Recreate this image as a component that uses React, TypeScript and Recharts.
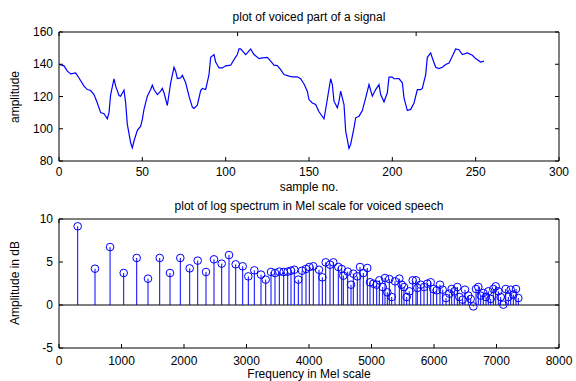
import React from 'react';
import { LineChart, Line, XAxis, YAxis, ComposedChart, Scatter, ErrorBar, ReferenceLine } from 'recharts';

// ---- top subplot: voiced part of a signal ----
const sampleNo = [
  0, 3, 5, 7, 10, 12, 15, 17, 19, 21, 23, 25, 27, 29, 30, 31, 33, 34, 36, 37, 39, 40, 41, 43, 44, 45, 47, 49,
  50, 51, 53, 55, 56, 57, 59, 61, 62, 63, 65, 67, 69, 70, 71, 73, 74, 76, 78, 80, 81, 83, 85, 86, 88, 90, 91,
  93, 94, 96, 98, 100, 103, 105, 107, 108, 109, 112, 113, 115, 117, 120, 122, 125, 127, 129, 131, 133, 135,
  138, 140, 143, 145, 147, 149, 150, 152, 154, 156, 159, 160, 163, 164, 165, 167, 168, 169, 171, 172, 174,
  175, 177, 178, 180, 182, 184, 186, 188, 190, 192, 193, 195, 197, 198, 200, 201, 204, 206, 207, 209, 211,
  213, 215, 217, 218, 220, 221, 223, 224, 226, 228, 230, 232, 234, 236, 238, 240, 242, 245, 248, 250, 253, 255,
];
const amplitude = [
  140, 139, 135.7, 134, 134.6, 131.5, 126.4, 124.3, 123.7, 121.2, 116, 110, 109.3, 106.2, 110, 121.2, 131,
  126.4, 120.6, 120.2, 124, 116, 102.7, 91.3, 88.2, 92.4, 99, 101.6, 105.8, 112, 120.2, 124.3, 127, 124.3,
  121.2, 123.3, 125, 122.3, 114.4, 128.5, 138.1, 135.7, 131.1, 131.5, 133.2, 128.5, 120.2, 113.4, 112.6,
  114.6, 123.7, 125, 124.3, 133.6, 144.3, 146, 141.4, 137.7, 137.7, 139, 139.4, 142.9, 146, 149.5, 149.5,
  146, 147, 149.5, 146, 143.5, 143.9, 144.3, 141.9, 139.4, 139.2, 136.7, 133.6, 132.6, 132.2, 132.2, 131,
  127.8, 123.3, 118.1, 116, 115, 110.5, 106.2, 112, 131, 127.4, 117.1, 113, 117.1, 123.3, 115, 98.6, 87.8,
  90.3, 100.6, 106.8, 107.8, 111.3, 119.2, 127.4, 120.2, 124.3, 127.4, 121.2, 116.7, 122.3, 132, 132, 131,
  131.1, 128.5, 119.2, 111.3, 112, 116, 124.3, 124.3, 125, 133.6, 144.3, 147, 143.9, 138.1, 137.3, 138.1,
  139.8, 140.8, 145, 149.5, 149, 146, 147, 145.6, 143.5, 141.4, 141.9,
];
const topXTicks = [0, 50, 100, 150, 200, 250, 300];
const topYTicks = [80, 100, 120, 140, 160];

// ---- bottom subplot: log spectrum in Mel scale ----
const melFreq = [
  299, 576, 817, 1035, 1243, 1424, 1611, 1776, 1941, 2091, 2219, 2352, 2480, 2603, 2720, 2827, 2939, 3029,
  3125, 3232, 3307, 3392, 3456, 3525, 3595, 3659, 3712, 3765, 3829, 3888, 3952, 4005, 4069, 4160, 4213, 4267,
  4336, 4389, 4469, 4523, 4549, 4619, 4672, 4709, 4773, 4816, 4869, 4933, 4976, 5029, 5083, 5125, 5179, 5216,
  5253, 5285, 5323, 5376, 5445, 5483, 5520, 5563, 5605, 5659, 5712, 5733, 5787, 5840, 5893, 5947, 5989, 6043,
  6096, 6139, 6192, 6245, 6283, 6325, 6373, 6405, 6459, 6496, 6549, 6587, 6629, 6672, 6709, 6747, 6789, 6832,
  6869, 6907, 6949, 6987, 7029, 7067, 7109, 7147, 7189, 7227, 7269, 7312, 7349,
];
const melAmp = [
  9.15, 4.22, 6.74, 3.72, 5.47, 3.06, 5.47, 3.72, 5.47, 4.26, 5.16, 3.84, 5.31, 4.81, 5.81, 4.73, 4.5, 3.33,
  4.03, 3.53, 2.95, 3.84, 3.72, 3.88, 3.84, 3.88, 3.99, 4.1, 2.95, 3.99, 4.19, 4.42, 4.5, 4.1, 3.22, 4.96,
  4.69, 4.96, 4.42, 4.19, 3.41, 3.88, 2.36, 3.64, 3.33, 4.42, 3.72, 4.3, 2.64, 2.48, 2.36, 2.87, 2.09, 3.14,
  1.47, 3.02, 0.93, 2.75, 3.06, 2.36, 2.09, 0.93, 1.59, 2.87, 2.87, 1.98, 2.36, 2.09, 2.48, 2.64, 1.86, 1.71,
  2.36, 1.78, 0.81, 1.32, 1.86, 1.59, 2.09, 0.93, 0.62, 1.78, 1.09, 0.7, -0.16, 1.86, 2.09, 1.09, 1.4, 0.93,
  1.59, 0.7, 1.86, 2.17, 1.59, 0.93, 0.04, 1.86, 0.93, 1.78, 1.2, 1.86, 0.81,
];
const botXTicks = [0, 1000, 2000, 3000, 4000, 5000, 6000, 7000, 8000];
const botYTicks = [-5, 0, 5, 10];

const signalData = sampleNo.map((n, i) => ({ n, v: amplitude[i] }));
// stem from the 0 baseline to each value, expressed as an asymmetric error range
const melData = melFreq.map((f, i) => {
  const v = melAmp[i];
  return { f, v, stem: v >= 0 ? [v, 0] : [0, -v] };
});

const FONT = '"Liberation Sans", Arial, Helvetica, sans-serif';
const BLUE = '#0000ff';
const TXT = '#000';

const makeBottomTick = (dy: number) => (props: any) => {
  const { x, y, payload } = props;
  return (
    <text x={x} y={y + dy} textAnchor="middle" fontSize={12} fontFamily={FONT} fill={TXT}>
      {payload.value}
    </text>
  );
};

const LeftTick = (props: any) => {
  const { x, y, payload } = props;
  return (
    <text x={x - 10} y={y + 4} textAnchor="end" fontSize={12} fontFamily={FONT} fill={TXT}>
      {payload.value}
    </text>
  );
};

const NoTick = () => <g />;

const StemHead = (props: any) => {
  const { cx, cy } = props;
  if (cx == null || cy == null) return <g />;
  return <circle cx={cx} cy={cy} r={3.8} fill="none" stroke={BLUE} strokeWidth={1} />;
};

const axisStyle = { stroke: '#000', strokeWidth: 1 };

const textBase: React.CSSProperties = {
  position: 'absolute',
  fontFamily: FONT,
  fontSize: 12,
  lineHeight: '14px',
  color: TXT,
  whiteSpace: 'nowrap',
};

export default function App() {
  return (
    <div style={{ position: 'absolute', left: 0, top: 0, width: 576, height: 381, background: '#fff', overflow: 'hidden' }}>
      <div style={{ position: 'absolute', left: 0, top: 0 }}>
        <LineChart width={576} height={200} data={signalData} margin={{ top: 32, right: 17, bottom: 39, left: 59 }}>
          <XAxis
            dataKey="n"
            type="number"
            domain={[0, 300]}
            ticks={topXTicks}
            mirror
            height={1}
            tickSize={4}
            tickMargin={0}
            axisLine={axisStyle}
            tickLine={axisStyle}
            tick={makeBottomTick(19)}
            interval={0}
            allowDataOverflow
          />
          <XAxis
            xAxisId="top"
            orientation="top"
            type="number"
            domain={[0, 300]}
            ticks={topXTicks}
            mirror
            height={1}
            tickSize={4}
            axisLine={axisStyle}
            tickLine={axisStyle}
            tick={NoTick}
            interval={0}
            allowDataOverflow
          />
          <YAxis
            type="number"
            domain={[80, 160]}
            ticks={topYTicks}
            mirror
            width={1}
            tickSize={4}
            tickMargin={0}
            axisLine={axisStyle}
            tickLine={axisStyle}
            tick={LeftTick}
            interval={0}
            allowDataOverflow
          />
          <YAxis
            yAxisId="right"
            orientation="right"
            type="number"
            domain={[80, 160]}
            ticks={topYTicks}
            mirror
            width={1}
            tickSize={4}
            axisLine={axisStyle}
            tickLine={axisStyle}
            tick={NoTick}
            interval={0}
            allowDataOverflow
          />
          <Line
            type="linear"
            dataKey="v"
            stroke={BLUE}
            strokeWidth={1.2}
            dot={false}
            isAnimationActive={false}
          />
        </LineChart>
      </div>

      <div style={{ position: 'absolute', left: 0, top: 190 }}>
        <ComposedChart width={576} height={191} data={melData} margin={{ top: 29, right: 17, bottom: 33, left: 59 }}>
          <XAxis
            dataKey="f"
            type="number"
            domain={[0, 8000]}
            ticks={botXTicks}
            mirror
            height={1}
            tickSize={4}
            tickMargin={0}
            axisLine={axisStyle}
            tickLine={axisStyle}
            tick={makeBottomTick(21)}
            interval={0}
            allowDataOverflow
          />
          <XAxis
            xAxisId="top"
            orientation="top"
            type="number"
            domain={[0, 8000]}
            ticks={botXTicks}
            mirror
            height={1}
            tickSize={4}
            axisLine={axisStyle}
            tickLine={axisStyle}
            tick={NoTick}
            interval={0}
            allowDataOverflow
          />
          <YAxis
            type="number"
            domain={[-5, 10]}
            ticks={botYTicks}
            mirror
            width={1}
            tickSize={4}
            tickMargin={0}
            axisLine={axisStyle}
            tickLine={axisStyle}
            tick={LeftTick}
            interval={0}
            allowDataOverflow
          />
          <YAxis
            yAxisId="right"
            orientation="right"
            type="number"
            domain={[-5, 10]}
            ticks={botYTicks}
            mirror
            width={1}
            tickSize={4}
            axisLine={axisStyle}
            tickLine={axisStyle}
            tick={NoTick}
            interval={0}
            allowDataOverflow
          />
          <ReferenceLine y={0} stroke="#000" strokeWidth={1} />
          <Scatter dataKey="v" shape={StemHead} isAnimationActive={false}>
            <ErrorBar dataKey="stem" direction="y" width={0} stroke={BLUE} strokeWidth={1} isAnimationActive={false} />
          </Scatter>
        </ComposedChart>
      </div>

      <div style={{ ...textBase, left: 59, width: 500, top: 10, textAlign: 'center' }}>plot of voiced part of a signal</div>
      <div style={{ ...textBase, left: 59, width: 500, top: 180, textAlign: 'center' }}>sample no.</div>
      <div style={{ ...textBase, left: 59, width: 500, top: 199, textAlign: 'center' }}>
        plot of log spectrum in Mel scale for voiced speech
      </div>
      <div style={{ ...textBase, left: 59, width: 500, top: 367, textAlign: 'center' }}>Frequency in Mel scale</div>
      <div style={{ ...textBase, left: 15, top: 97, transform: 'translate(-50%, -50%) rotate(-90deg)' }}>amplitude</div>
      <div style={{ ...textBase, left: 15, top: 283, transform: 'translate(-50%, -50%) rotate(-90deg)' }}>Amplitude in dB</div>
    </div>
  );
}
